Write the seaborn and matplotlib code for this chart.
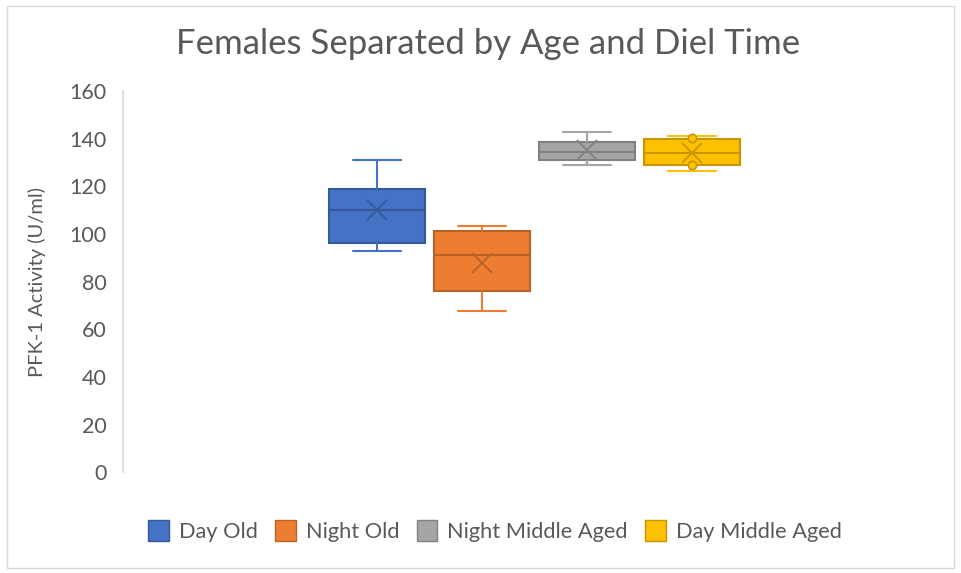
import numpy as np
import pandas as pd
import seaborn as sns
import matplotlib.pyplot as plt
from matplotlib.patches import Rectangle, Patch
from matplotlib.colors import to_rgb

# ------------------------------
# Data
# ------------------------------
groups = ["Day Old", "Night Old", "Night Middle Aged", "Day Middle Aged"]
day_old = [92.9, 96.2, 110.2, 118.9, 131.2]
night_old = [67.7, 76.1, 91.3, 101.1, 103.2]
night_middle = [129.1, 131.2, 134.3, 138.8, 142.9]
day_middle = [126.5, 128.8, 134.0, 139.9, 141.0]
day_middle_inner = [140.3, 129.1]   # inner points shown on the yellow box
colors = ["#4472C4", "#ED7D31", "#A5A5A5", "#FFC000"]
yticks = list(range(0, 161, 20))

values = [day_old, night_old, night_middle, day_middle]
df = pd.DataFrame({
    "group": [g for g, v in zip(groups, values) for _ in v],
    "value": [x for v in values for x in v],
})
df["cat"] = "Females"

def darker(c, f=0.78):
    return tuple(ch * f for ch in to_rgb(c))

text_col = "#595959"

# ------------------------------
# Plot
# ------------------------------
sns.set_theme(style="white")
plt.rcParams["font.family"] = ["Lato", "DejaVu Sans"]

fig = plt.figure(figsize=(9.61, 5.73), dpi=100)
ax = fig.add_axes([0.128, 0.176, 0.857, 0.665])

sns.boxplot(data=df, x="cat", y="value", hue="group", hue_order=groups,
            palette=colors, saturation=1, width=0.51, gap=0.086,
            whis=(0, 100), showmeans=True, linewidth=1.5, ax=ax)

for cont, col in zip(ax.containers, colors):
    dk = darker(col)
    for b in cont.boxes:
        b.set_edgecolor(dk)
        b.set_linewidth(1.5)
    for ln in list(cont.whiskers) + list(cont.caps):
        ln.set_color(col)
        ln.set_linewidth(1.5)
    for ln in cont.medians:
        ln.set_color(dk)
        ln.set_linewidth(1.5)
    for ln in cont.means:
        ln.set_marker("x")
        ln.set_markersize(15)
        ln.set_markeredgecolor(dk)
        ln.set_markeredgewidth(1.3)

# inner points on the Day Middle Aged box
yb = ax.containers[3].boxes[0].get_path().get_extents()
xc = (yb.x0 + yb.x1) / 2
ax.scatter([xc] * len(day_middle_inner), day_middle_inner, s=36,
           facecolor=colors[3], edgecolor=darker(colors[3]), linewidth=1.2, zorder=5)

ax.set_xlim(-0.5, 0.5)
ax.set_ylim(0, 160)
ax.set_yticks(yticks)
ax.set_xticks([])
ax.set_xlabel("")
ax.set_ylabel("")
ax.tick_params(axis="y", length=0, pad=12, labelsize=15.5, labelcolor=text_col)
for s in ["top", "right", "bottom"]:
    ax.spines[s].set_visible(False)
ax.spines["left"].set_color("#D9D9D9")
ax.spines["left"].set_linewidth(1.2)
ax.get_legend().remove()

fig.text(0.508, 0.923, "Females Separated by Age and Diel Time",
         ha="center", va="center", fontsize=25, color=text_col)
fig.text(0.038, 0.508, "PFK-1 Activity (U/ml)", rotation=90,
         ha="center", va="center", fontsize=14.5, color=text_col)

handles = [Patch(facecolor=c, edgecolor=darker(c), linewidth=1) for c in colors]
fig.legend(handles, groups, loc="center", bbox_to_anchor=(0.515, 0.073),
           ncol=4, frameon=False, fontsize=15.7, handlelength=0.95,
           handleheight=1.1, handletextpad=0.45, columnspacing=0.8,
           labelcolor=text_col)

fig.add_artist(Rectangle((7 / 961, 5 / 573), 947 / 961, 562 / 573,
                         transform=fig.transFigure, fill=False,
                         edgecolor="#D9D9D9", linewidth=1))

fig.savefig("out.png", dpi=100)
